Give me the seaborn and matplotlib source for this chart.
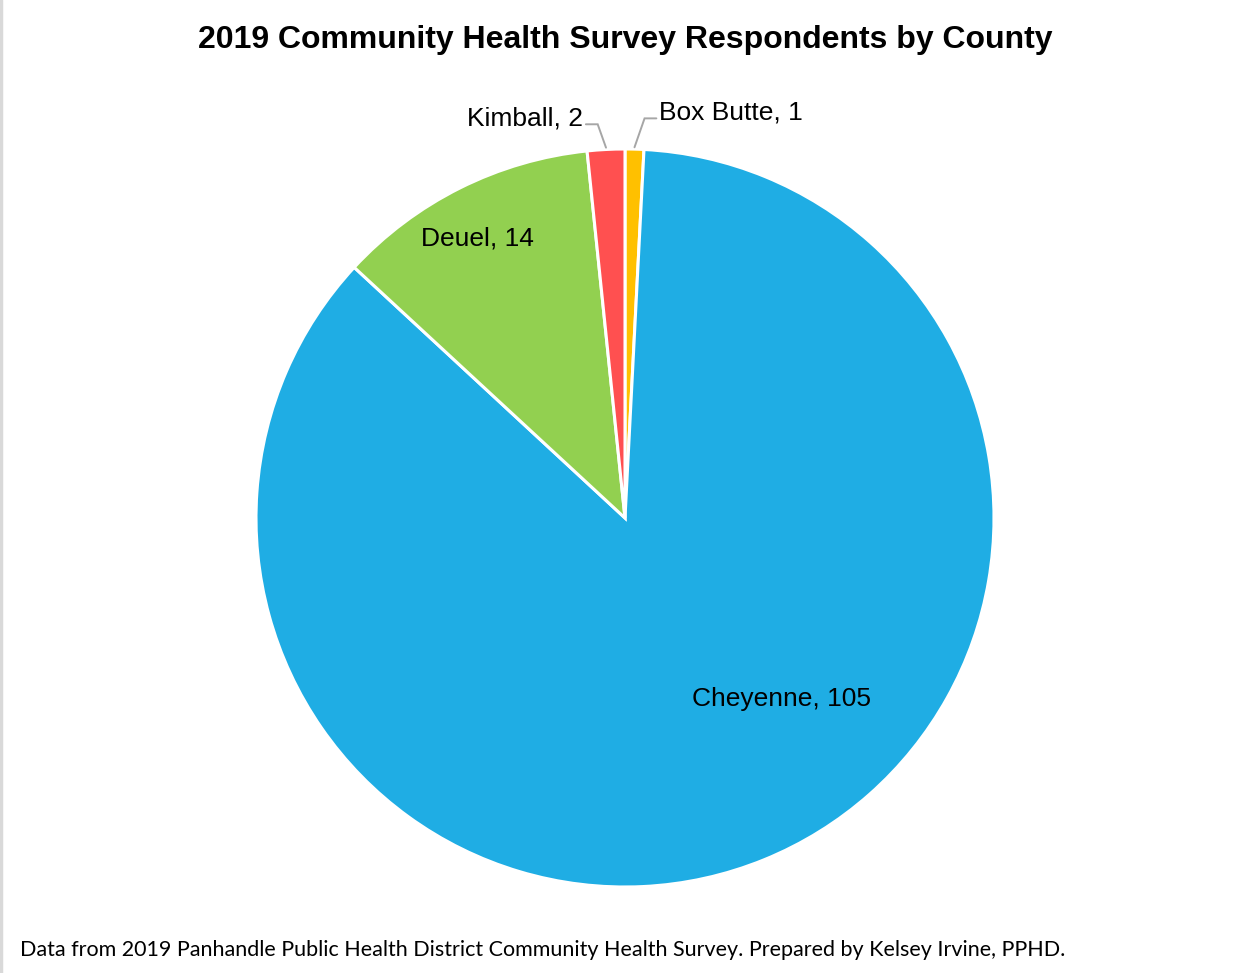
import numpy as np
import matplotlib
matplotlib.use("Agg")
import matplotlib.pyplot as plt
import seaborn as sns

sns.set_theme(style="white")
plt.rcParams["font.family"] = ["Liberation Sans", "DejaVu Sans"]
plt.rcParams["text.color"] = "black"

# data, clockwise from 12 o'clock
counties = ["Box Butte", "Cheyenne", "Deuel", "Kimball"]
respondents = [1, 105, 14, 2]
colors = ["#FFC000", "#1FADE4", "#92D050", "#FF5050"]

# label anchors (data units, pie radius = 1) and alignment
label_pos = {
    "Box Butte": (0.093, 1.098, "left"),
    "Cheyenne": (0.425, -0.49, "center"),
    "Deuel": (-0.40, 0.757, "center"),
    "Kimball": (-0.114, 1.082, "right"),
}

W, H = 1247, 973
fig = plt.figure(figsize=(W / 100, H / 100), dpi=100)
cx, cy, r = 625, 518, 369
ax = fig.add_axes([(cx - r) / W, (H - cy - r) / H, 2 * r / W, 2 * r / H])

wedges, _ = ax.pie(respondents, colors=colors, startangle=90, counterclock=False,
                   radius=1, wedgeprops=dict(edgecolor="white", linewidth=2.2))
ax.set_xlim(-1, 1); ax.set_ylim(-1, 1)
ax.set_aspect("equal")
ax.axis("off")

for w, name, n in zip(wedges, counties, respondents):
    x, y, ha = label_pos[name]
    ax.text(x, y, f"{name}, {n}", ha=ha, va="center", fontsize=19, color="black",
            family=["Liberation Sans"], clip_on=False)
    if name in ("Box Butte", "Kimball"):
        ang = np.deg2rad((w.theta1 + w.theta2) / 2)
        ex, ey = np.cos(ang), np.sin(ang)
        sgn = 1 if ha == "left" else -1
        tx = x - sgn * 0.008
        elbow = x - sgn * 0.04
        ax.plot([tx, elbow, ex], [y - 0.015, y - 0.015, ey + 0.005], color="#A6A6A6",
                lw=1.4, clip_on=False, solid_joinstyle="miter")

fig.text(0.5012, 1 - 40 / H, "2019 Community Health Survey Respondents by County",
         ha="center", va="center", fontsize=23, fontweight="bold", color="black",
         family=["Liberation Sans"])
fig.text(20 / W, 1 - 950 / H,
         "Data from 2019 Panhandle Public Health District Community Health Survey. "
         "Prepared by Kelsey Irvine, PPHD.",
         ha="left", va="center", fontsize=15.5, color="black",
         family=["Lato", "DejaVu Sans"])

# thin grey border on the left edge
fig.add_artist(plt.Line2D([1.2 / W, 1.2 / W], [0, 1], color="#D9D9D9", lw=2.5,
                          transform=fig.transFigure))

fig.savefig("out.png", dpi=100, facecolor="white")
